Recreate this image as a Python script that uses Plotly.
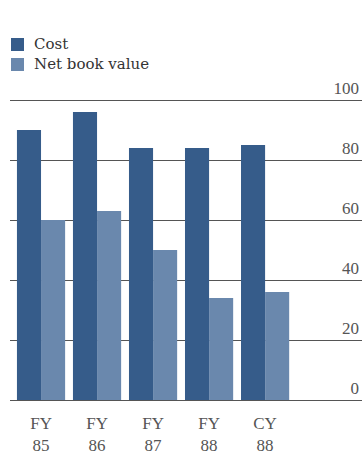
import plotly.graph_objects as go

categories = ["FY<br>85", "FY<br>86", "FY<br>87", "FY<br>88", "CY<br>88"]
series_names = ["Cost", "Net book value"]
cost = [90, 96, 84, 84, 85]
net_book_value = [60, 63, 50, 34, 36]
y_ticks = [0, 20, 40, 60, 80, 100]
colors = ["#365c8a", "#6a88ad"]

W, H = 364, 456
L, R, T, B = 10, 2, 73, 53
PW, PH = W - L - R, H - T - B


def px_x(px):
    return (px - L) / PW


def px_y(py):
    return (H - B - py) / PH


fig = go.Figure()
for name, vals, col in zip(series_names, [cost, net_book_value], colors):
    fig.add_trace(go.Bar(x=list(range(len(categories))), y=vals, name=name,
                         marker=dict(color=col, line=dict(width=0)),
                         showlegend=False))

# manual legend
legend_rows = [44.5, 64.5]
for name, col, cy in zip(series_names, colors, legend_rows):
    fig.add_shape(type="rect", xref="paper", yref="paper",
                  x0=px_x(11), x1=px_x(24), y0=px_y(cy - 6.5), y1=px_y(cy + 6.5),
                  fillcolor=col, line=dict(width=0), layer="above")
    fig.add_annotation(xref="paper", yref="paper", x=px_x(32), y=px_y(cy),
                       text=name, showarrow=False, xanchor="left", yanchor="middle",
                       font=dict(family="DejaVu Serif", size=15, color="#333"))

fig.update_layout(
    width=W, height=H,
    margin=dict(l=L, r=R, t=T, b=B, autoexpand=False),
    paper_bgcolor="white", plot_bgcolor="white",
    barmode="group", bargap=0.14, bargroupgap=0,
    font=dict(family="Liberation Serif", size=17, color="#555"),
    showlegend=False,
)
fig.update_xaxes(
    tickmode="array", tickvals=list(range(len(categories))), ticktext=categories,
    range=[-0.554, 5.73], showgrid=False, zeroline=False, showline=False,
    ticks="", ticklabelstandoff=8,
    tickfont=dict(family="Liberation Serif", size=17, color="#555"),
)
fig.update_yaxes(
    range=[-1, 109], side="right", tickvals=y_ticks,
    ticklabelposition="inside top", ticklabelstandoff=0,
    showgrid=True, gridcolor="#555", gridwidth=1,
    zeroline=False, showline=False, ticks="",
    tickfont=dict(family="Liberation Serif", size=17, color="#555"),
)
fig.write_html("out.html")
